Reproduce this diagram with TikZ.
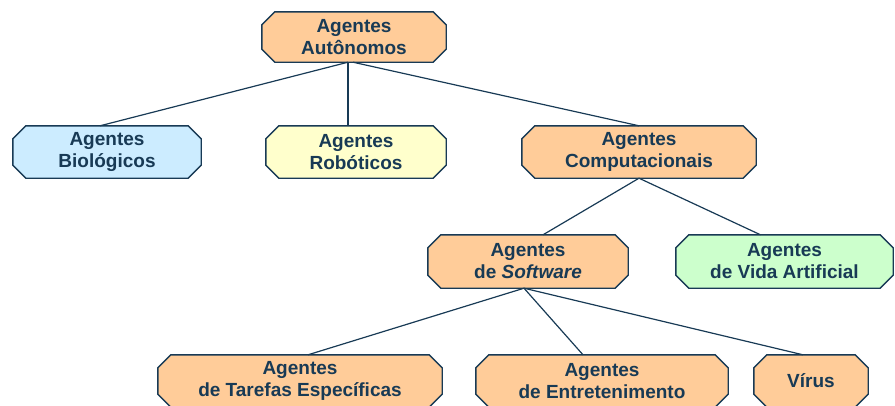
\documentclass[tikz,border=0pt]{standalone}
\usepackage{fontspec}
\setmainfont{Liberation Sans}
\pgfdeclarelayer{background}
\pgfsetlayers{background,main}
\definecolor{ink}{HTML}{183A55}
\definecolor{peach}{HTML}{FFCC99}
\definecolor{skyfill}{HTML}{CCECFF}
\definecolor{creamfill}{HTML}{FFFFCC}
\definecolor{mintfill}{HTML}{CCFFCC}
\tikzset{
  box/.style={draw=none, inner sep=0pt, align=center, text=ink,
    font=\fontsize{19}{22}\selectfont\bfseries},
  boxline/.style={draw=ink, line width=1.4pt, line join=miter},
  link/.style={draw=ink, line width=1.2pt}
}
% chamfered outline drawn behind a named node
\newcommand\octframe[2]{%
  \begin{pgfonlayer}{background}
  \filldraw[boxline, fill=#2]
    ([xshift=13pt]#1.north west) -- ([xshift=-13pt]#1.north east)
    -- ([yshift=-13pt]#1.north east) -- ([yshift=13pt]#1.south east)
    -- ([xshift=-13pt]#1.south east) -- ([xshift=13pt]#1.south west)
    -- ([yshift=13pt]#1.south west) -- ([yshift=-13pt]#1.north west) -- cycle;
  \end{pgfonlayer}}
\begin{document}
\begin{tikzpicture}[x=1pt, y=-1pt]
\useasboundingbox (0,0) rectangle (895,405);

\node[box, minimum width=184pt, minimum height=50pt] (auto) at (354,37) {Agentes\\Autônomos};
\node[box, minimum width=188pt, minimum height=52pt] (bio) at (107,152) {Agentes\\Biológicos};
\node[box, minimum width=180pt, minimum height=52pt] (rob) at (356,152) {Agentes\\Robóticos};
\node[box, minimum width=234pt, minimum height=52pt] (comp) at (639,152) {Agentes\\Computacionais};
\node[box, minimum width=200pt, minimum height=53pt] (soft) at (528,261.5) {Agentes\\de \textit{Software}};
\node[box, minimum width=217pt, minimum height=53pt] (vida) at (784.5,261.5) {Agentes\\de Vida Artificial};
\node[box, minimum width=284pt, minimum height=52pt] (taref) at (300,381) {Agentes\\de Tarefas Específicas};
\node[box, minimum width=252pt, minimum height=52pt] (entre) at (602,381) {Agentes\\de Entretenimento};
\node[box, minimum width=114pt, minimum height=52pt] (virus) at (811,381) {Vírus};

\octframe{auto}{peach}
\octframe{bio}{skyfill}
\octframe{rob}{creamfill}
\octframe{comp}{peach}
\octframe{soft}{peach}
\octframe{vida}{mintfill}
\octframe{taref}{peach}
\octframe{entre}{peach}
\octframe{virus}{peach}

\begin{pgfonlayer}{background}
\draw[link] ([xshift=-6pt]auto.south) -- ([xshift=-7pt]bio.north);
\draw[link] ([xshift=-6pt]auto.south) -- ([xshift=-8pt]rob.north);
\draw[link] ([xshift=-1pt]auto.south) -- (comp.north);
\draw[link] (comp.south) -- ([xshift=15pt]soft.north);
\draw[link] (comp.south) -- ([xshift=-24pt]vida.north);
\draw[link] ([xshift=-4pt]soft.south) -- ([xshift=8pt]taref.north);
\draw[link] ([xshift=-4pt]soft.south) -- ([xshift=-19pt]entre.north);
\draw[link] ([xshift=-4pt]soft.south) -- ([xshift=-8pt]virus.north);
\end{pgfonlayer}
\end{tikzpicture}
\end{document}
